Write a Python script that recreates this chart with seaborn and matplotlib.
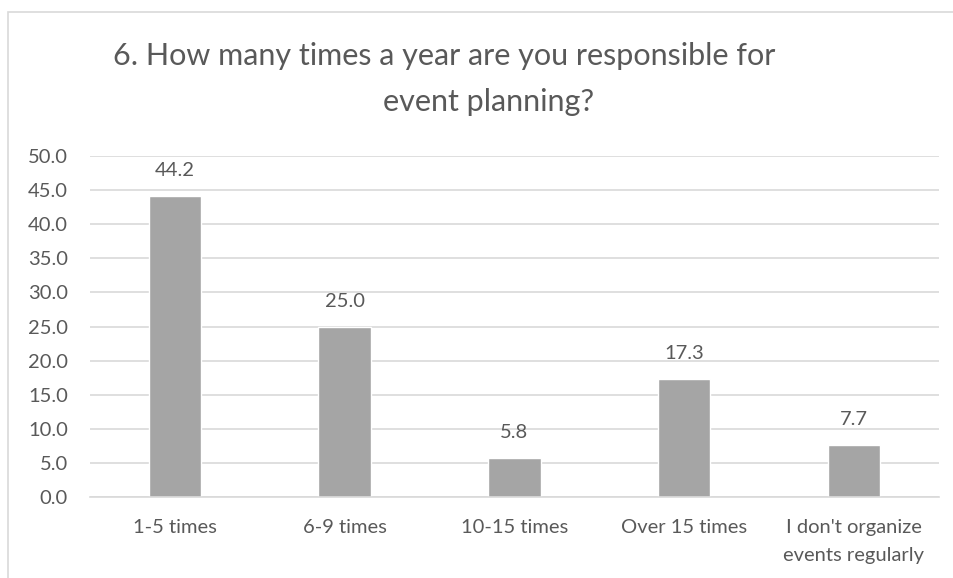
import matplotlib
matplotlib.use("Agg")
import matplotlib.pyplot as plt
import seaborn as sns
import pandas as pd
from matplotlib.patches import Rectangle

# survey answers (percent)
categories = ["1-5 times", "6-9 times", "10-15 times", "Over 15 times",
              "I don't organize\nevents regularly"]
values = [44.2, 25.0, 5.8, 17.3, 7.7]
yticks = [0, 5, 10, 15, 20, 25, 30, 35, 40, 45, 50]

title_lines = ["6. How many times a year are you responsible for",
               "event planning?"]

text_color = "#595959"
bar_color = "#a5a5a5"
grid_color = "#d9d9d9"

sns.set_style("white")
plt.rcParams["font.family"] = ["Lato", "DejaVu Sans"]

df = pd.DataFrame({"category": categories, "value": values})

fig = plt.figure(figsize=(9.54, 5.78), dpi=100)
ax = fig.add_axes([0.0943, 0.140, 0.8897, 0.590])

sns.barplot(data=df, x="category", y="value", color=bar_color,
            saturation=1, width=0.31, ax=ax)

ax.set_ylim(0, 50)
ax.set_yticks(yticks)
ax.set_yticklabels([f"{v:.1f}" for v in yticks])
ax.set_xlim(-0.5, len(categories) - 0.5)
ax.yaxis.grid(True, color=grid_color, linewidth=1.2)
ax.set_axisbelow(True)
for side in ["top", "right", "left"]:
    ax.spines[side].set_visible(False)
ax.spines["bottom"].set_color(grid_color)
ax.spines["bottom"].set_linewidth(1.2)
ax.tick_params(axis="both", length=0, labelsize=14.5, colors=text_color)
ax.tick_params(axis="y", pad=16)
ax.tick_params(axis="x", pad=16)
for lbl in ax.get_xticklabels():
    lbl.set_linespacing(1.75)
ax.set_xlabel("")
ax.set_ylabel("")

ax.bar_label(ax.containers[0], labels=[f"{v:.1f}" for v in values],
             padding=12, fontsize=14.5, color=text_color)

fig.text(0.466, 1 - 56 / 578, title_lines[0], ha="center", va="center",
         fontsize=22, color=text_color)
fig.text(0.512, 1 - 102 / 578, title_lines[1], ha="center", va="center",
         fontsize=22, color=text_color)

# chart border
fig.patches.append(Rectangle((8 / 954, -0.1), 1.2, 1 - 12 / 578 + 0.1,
                             transform=fig.transFigure, fill=False,
                             edgecolor="#d9d9d9", linewidth=1.2))

fig.savefig("out.png", dpi=100)
